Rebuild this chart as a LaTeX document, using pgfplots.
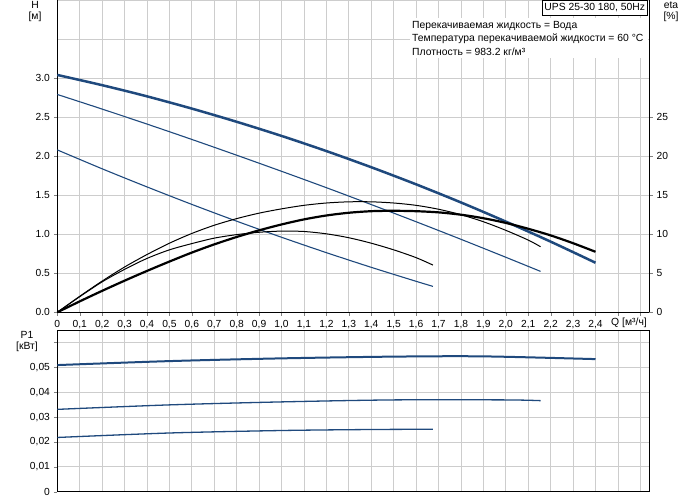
\documentclass[border=0pt]{standalone}
\usepackage{fontspec}
\setmainfont{Liberation Sans}
\usepackage{pgfplots}
\pgfplotsset{compat=1.18}
\definecolor{pblue}{RGB}{31,73,125}
\definecolor{gridgray}{RGB}{205,205,205}
\pgfplotsset{
  every tick label/.append style={font=\fontsize{10.3}{11}\selectfont},
  every axis/.append style={line width=0.8bp},
  major tick length=3.5bp,
  minor tick length=0bp,
}
\begin{document}
\begin{tikzpicture}[x=1bp,y=1bp]
\path[use as bounding box] (0,0) rectangle (691,-500);
\fontsize{10.4}{12}\selectfont
% ---------- top axis: H and eta ----------
\begin{axis}[
  scale only axis, width=592bp, height=312.3bp,
  at={(57.3bp,0bp)}, anchor=north west,
  xmin=0, xmax=2.64, ymin=0, ymax=4,
  axis x line*=bottom, axis y line*=left,
  tick align=outside,
  xtick={0,0.1,0.2,0.3,0.4,0.5,0.6,0.7,0.8,0.9,1.0,1.1,1.2,1.3,1.4,1.5,1.6,1.7,1.8,1.9,2.0,2.1,2.2,2.3,2.4,2.5,2.6},
  xticklabels={0,{0,1},{0,2},{0,3},{0,4},{0,5},{0,6},{0,7},{0,8},{0,9},{1,0},{1,1},{1,2},{1,3},{1,4},{1,5},{1,6},{1,7},{1,8},{1,9},{2,0},{2,1},{2,2},{2,3},{2,4},,},
  ytick={0,0.5,1,1.5,2,2.5,3},
  yticklabels={0.0,0.5,1.0,1.5,2.0,2.5,3.0},
  minor ytick={3.5,4},
  xmajorgrids, ymajorgrids, yminorgrids,
  grid style={draw=gridgray, line width=0.8bp},
  minor grid style={draw=gridgray, line width=0.8bp},
  xticklabel style={yshift=-1bp},
  scaled ticks=false,
  clip=false,
]
% H curves
\addplot[pblue, line width=2.5bp, smooth] coordinates {
(0,3.040) (0.2,2.909) (0.4,2.766) (0.6,2.609) (0.8,2.440) (1.0,2.259) (1.2,2.065)
(1.4,1.858) (1.6,1.639) (1.8,1.407) (2.0,1.162) (2.2,0.905) (2.4,0.635)};
\addplot[pblue, line width=1.1bp, smooth] coordinates {
(0,2.790) (0.2,2.603) (0.4,2.411) (0.6,2.214) (0.8,2.012) (1.0,1.806) (1.2,1.596)
(1.4,1.380) (1.6,1.160) (1.8,0.935) (2.0,0.705) (2.155,0.524)};
\addplot[pblue, line width=1.1bp, smooth] coordinates {
(0,2.080) (0.2,1.838) (0.4,1.606) (0.6,1.382) (0.8,1.167) (1.0,0.961) (1.2,0.764)
(1.4,0.576) (1.6,0.397) (1.675,0.332)};
% eta curves (eta/10 on H scale)
\addplot[black, line width=2.2bp, smooth] coordinates {
(0,0) (0.1,0.14) (0.2,0.275) (0.3,0.405) (0.4,0.53) (0.5,0.65) (0.6,0.765) (0.7,0.87)
(0.8,0.965) (0.9,1.05) (1.0,1.125) (1.1,1.19) (1.2,1.24) (1.3,1.275) (1.4,1.295)
(1.5,1.30) (1.6,1.295) (1.7,1.28) (1.8,1.25) (1.9,1.205) (2.0,1.145) (2.1,1.07)
(2.2,0.985) (2.3,0.885) (2.4,0.775)};
\addplot[black, line width=1bp, smooth] coordinates {
(0,0) (0.1,0.205) (0.2,0.40) (0.3,0.58) (0.4,0.74) (0.5,0.885) (0.6,1.01) (0.7,1.115)
(0.8,1.20) (0.9,1.27) (1.0,1.325) (1.1,1.37) (1.2,1.40) (1.3,1.415) (1.4,1.415)
(1.5,1.40) (1.6,1.37) (1.7,1.32) (1.8,1.25) (1.9,1.16) (2.0,1.05) (2.1,0.925) (2.155,0.84)};
\addplot[black, line width=1bp, smooth] coordinates {
(0,0) (0.1,0.20) (0.2,0.39) (0.3,0.55) (0.4,0.69) (0.5,0.80) (0.6,0.88) (0.7,0.95)
(0.8,0.995) (0.9,1.025) (1.0,1.04) (1.1,1.035) (1.2,1.005) (1.3,0.955) (1.4,0.885)
(1.5,0.80) (1.6,0.70) (1.675,0.605)};
\end{axis}
% ---------- right eta axis ----------
\begin{axis}[
  scale only axis, width=592bp, height=312.3bp,
  at={(57.3bp,0bp)}, anchor=north west,
  xmin=0, xmax=2.64, ymin=0, ymax=40,
  axis y line*=right, axis x line=none,
  xtick=\empty, xticklabels={},
  tick align=outside,
  ytick={0,5,10,15,20,25},
  yticklabels={0,5,10,15,20,25},
]
\addplot[draw=none] coordinates {(0.5,5)};
\end{axis}
% ---------- bottom axis: P1 ----------
\begin{axis}[
  scale only axis, width=592bp, height=161.7bp,
  at={(57.3bp,-330bp)}, anchor=north west,
  xmin=0, xmax=2.64, ymin=0, ymax=0.065,
  tick align=outside, tick pos=left,
  xtick={0,0.1,0.2,0.3,0.4,0.5,0.6,0.7,0.8,0.9,1.0,1.1,1.2,1.3,1.4,1.5,1.6,1.7,1.8,1.9,2.0,2.1,2.2,2.3,2.4,2.5,2.6},
  xticklabels={},
  major x tick style={draw=none},
  ytick={0,0.01,0.02,0.03,0.04,0.05,0.06},
  yticklabels={0,{0,01},{0,02},{0,03},{0,04},{0,05},},
  xmajorgrids, ymajorgrids,
  grid style={draw=gridgray, line width=0.8bp},
  scaled ticks=false,
]
\addplot[pblue, line width=2bp, smooth] coordinates {
(0,0.0509) (0.5,0.0525) (1.0,0.0536) (1.5,0.0543) (1.9,0.0544) (2.4,0.0533)};
\addplot[pblue, line width=1.3bp, smooth] coordinates {
(0,0.0331) (0.5,0.0349) (1.0,0.0361) (1.5,0.0369) (2.0,0.0369) (2.155,0.0366)};
\addplot[pblue, line width=1.3bp, smooth] coordinates {
(0,0.0218) (0.5,0.0236) (1.0,0.0246) (1.4,0.0250) (1.675,0.0251)};
\end{axis}
% ---------- texts ----------
\node at (35,-5) {H};
\node at (35,-17) {[м]};
\node at (671,-5) {eta};
\node at (671,-17) {[\%]};
\node at (27,-335) {P1};
\node at (27,-347) {[кВт]};
\node[inner sep=1bp] at (629,-323) {Q [м³/ч]};
\fill[white] (410,-18) rectangle (647.5,-58);
\node[anchor=west, inner sep=0] at (412,-25.7) {Перекачиваемая жидкость = Вода};
\node[anchor=west, inner sep=0] at (412,-39) {Температура перекачиваемой жидкости = 60 °C};
\node[anchor=west, inner sep=0] at (412,-51.7) {Плотность = 983.2 кг/м³};
\draw[fill=white, line width=0.8bp] (542,-0.5) rectangle (647.5,-15);
\node at (594.75,-7.75) {UPS 25-30 180, 50Hz};
\end{tikzpicture}
\end{document}
